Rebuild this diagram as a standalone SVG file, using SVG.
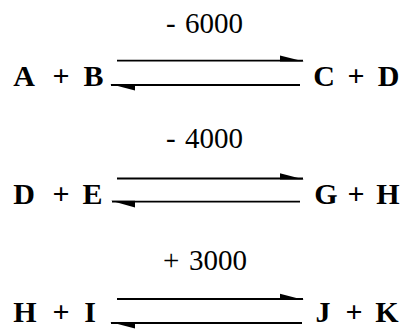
<svg xmlns="http://www.w3.org/2000/svg" width="408" height="334" viewBox="0 0 408 334">
<style>
.sp{font-size:30px;font-weight:bold;fill:#000;text-anchor:middle}
.lb{font-size:29px;fill:#000}
.ln{stroke:#000;stroke-width:1.8;fill:none}
.hd{fill:#000;stroke:none}
</style>
<rect width="408" height="334" fill="#fff"/>
<g font-family="Liberation Serif, DejaVu Serif, Times New Roman, serif">
<g id="r1-left"><text class="sp" y="86"><tspan x="24">A</tspan><tspan x="61">+</tspan><tspan x="93.5">B</tspan></text></g>
<g id="r1-right"><text class="sp" y="86"><tspan x="324">C</tspan><tspan x="356">+</tspan><tspan x="388.5">D</tspan></text></g>
<g id="r2-left"><text class="sp" y="204"><tspan x="24">D</tspan><tspan x="61">+</tspan><tspan x="92.5">E</tspan></text></g>
<g id="r2-right"><text class="sp" y="204"><tspan x="326">G</tspan><tspan x="356">+</tspan><tspan x="388">H</tspan></text></g>
<g id="r3-left"><text class="sp" y="322"><tspan x="25">H</tspan><tspan x="61">+</tspan><tspan x="90">I</tspan></text></g>
<g id="r3-right"><text class="sp" y="322"><tspan x="323">J</tspan><tspan x="354">+</tspan><tspan x="387">K</tspan></text></g>
<g id="connectors">
<g id="eq1">
<line class="ln" x1="117" y1="60.7" x2="303" y2="60.7"/>
<polygon class="hd" points="280,55.5 304,61.6 280,61.6"/>
<line class="ln" x1="111" y1="85" x2="300" y2="85"/>
<polygon class="hd" points="135,90.5 110,84.1 135,84.1"/>
<text class="lb" y="33"><tspan x="166">-</tspan><tspan x="185">6000</tspan></text>
</g>
<g id="eq2">
<line class="ln" x1="117" y1="178.5" x2="303" y2="178.5"/>
<polygon class="hd" points="280,173.3 304,179.4 280,179.4"/>
<line class="ln" x1="112" y1="201.7" x2="300" y2="201.7"/>
<polygon class="hd" points="135,207.5 111,200.8 135,200.8"/>
<text class="lb" y="148"><tspan x="166">-</tspan><tspan x="185">4000</tspan></text>
</g>
<g id="eq3">
<line class="ln" x1="117" y1="299" x2="303" y2="299"/>
<polygon class="hd" points="280,293.8 304,299.9 280,299.9"/>
<line class="ln" x1="111" y1="323" x2="302" y2="323"/>
<polygon class="hd" points="135,328.5 110,322.1 135,322.1"/>
<text class="lb" y="270"><tspan x="163">+</tspan><tspan x="189">3000</tspan></text>
</g>
</g>
</g>
</svg>
